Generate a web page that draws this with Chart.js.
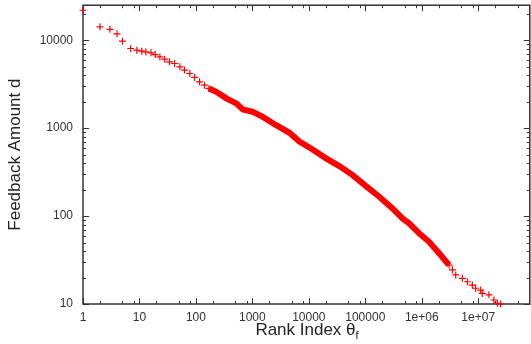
<!DOCTYPE html>
<html>
<head>
<meta charset="utf-8">
<script src="https://cdn.jsdelivr.net/npm/chart.js@4/dist/chart.umd.min.js"></script>
<style>
  body { margin: 0; background: #fff; overflow: hidden; }
  #wrap { position: relative; width: 531px; height: 344px; overflow: hidden; }
  #xtitle {
    position: absolute; left: 83px; width: 448px; top: 320px;
    text-align: center; font: 17px "Liberation Sans", Arial, sans-serif;
    color: #222; line-height: 20px;
  }
  #xtitle sub { font-size: 11px; vertical-align: -4px; }
</style>
</head>
<body>
<div id="wrap">
  <canvas id="rankChart" width="535" height="344"></canvas>
  <div id="xtitle">Rank Index θ<sub>f</sub></div>
</div>
<script>
// head of the curve: separate + markers
const headRank   = [1, 2, 3, 4, 5, 7, 9, 11, 13, 16, 19, 23, 28, 34, 42, 52, 63, 78, 95, 116, 142, 170];
const headAmount = [21900, 14200, 13300, 11800, 9750, 8050, 7700, 7500, 7360, 7180, 6870, 6450, 6080, 5670, 5430, 4980, 4570, 4180, 3770, 3360, 3080, 2830];

// body: markers merge into a solid band
const bodyRank   = [170, 230, 346, 520, 680, 1020, 1530, 2640, 4540, 6820, 11700, 20200, 34700, 59700, 103000, 177000, 303000, 456000, 598000, 899000, 1350000, 2030000, 3050000];
const bodyAmount = [2830, 2590, 2180, 1910, 1630, 1530, 1340, 1080, 885, 705, 572, 453, 370, 292, 219, 166, 122, 94, 82.6, 63.5, 51, 37.7, 27.7];

// tail: markers thin out again
const tailRank   = [2030000, 2500000, 3050000, 3500000, 4000000, 5240000, 6420000, 7870000, 9000000, 11100000, 11800000, 15500000, 19000000, 21800000, 25000000];
const tailAmount = [37.7, 32, 27.7, 24.5, 21.4, 19.6, 17.9, 16.4, 15.1, 14.4, 13.2, 12.7, 11.1, 10.2, 10];

const xTicks = [1, 10, 100, 1000, 10000, 100000, 1000000, 10000000];
const xTickLabels = ['1', '10', '100', '1000', '10000', '100000', '1e+06', '1e+07'];
const yTicks = [10, 100, 1000, 10000];
const yTickLabels = ['10', '100', '1000', '10000'];
const xMinor = [2, 5, 8];
const yMinor = [2, 3, 4, 5, 6, 7, 8, 9];

const red = '#ff0000';
const axisColor = '#333333';
const font = '"Liberation Sans", Arial, sans-serif';

const pts = (xs, ys) => xs.map((x, i) => ({ x: x, y: ys[i] }));

// box border and inward ticks on all four sides
const frameTicks = {
    id: 'frameTicks',
    beforeDatasetsDraw(chart) {
        const { ctx, chartArea: a, scales: { x, y } } = chart;
        ctx.save();
        ctx.strokeStyle = axisColor;
        ctx.lineWidth = 1.5;
        ctx.strokeRect(a.left, a.top, a.right - a.left, a.bottom - a.top);
        ctx.lineWidth = 1;
        ctx.beginPath();
        const xTick = (v, len) => {
            if (v < x.min || v > x.max) return;
            const p = Math.round(x.getPixelForValue(v)) + 0.5;
            ctx.moveTo(p, a.bottom); ctx.lineTo(p, a.bottom - len);
            ctx.moveTo(p, a.top); ctx.lineTo(p, a.top + len);
        };
        const yTick = (v, len) => {
            if (v < y.min || v > y.max) return;
            const p = Math.round(y.getPixelForValue(v)) + 0.5;
            ctx.moveTo(a.left, p); ctx.lineTo(a.left + len, p);
            ctx.moveTo(a.right, p); ctx.lineTo(a.right - len, p);
        };
        xTicks.concat([100000000]).forEach(d => {
            xTick(d, 6);
            xMinor.forEach(m => xTick(d * m, 3));
        });
        yTicks.forEach(d => {
            yTick(d, 6);
            yMinor.forEach(m => yTick(d * m, 3));
        });
        ctx.stroke();
        ctx.restore();
    }
};

const crossStyle = {
    showLine: false,
    pointStyle: 'cross',
    pointRadius: 3.5,
    pointBorderWidth: 1.2,
    borderColor: red,
    backgroundColor: red,
    clip: false
};

new Chart(document.getElementById('rankChart').getContext('2d'), {
    type: 'scatter',
    data: {
        datasets: [
            Object.assign({ label: 'head', data: pts(headRank, headAmount) }, crossStyle),
            {
                label: 'body',
                data: pts(bodyRank, bodyAmount),
                showLine: true,
                borderColor: red,
                borderWidth: 6,
                pointRadius: 0,
                tension: 0,
                clip: false
            },
            Object.assign({ label: 'tail', data: pts(tailRank, tailAmount) }, crossStyle)
        ]
    },
    options: {
        responsive: false,
        animation: false,
        layout: { padding: { top: 5, right: 0, left: 0, bottom: 0 } },
        plugins: { legend: { display: false }, tooltip: { enabled: false } },
        scales: {
            x: {
                type: 'logarithmic',
                min: 1,
                max: 82000000,
                grid: { display: false, drawTicks: false },
                border: { display: false },
                afterBuildTicks: s => { s.ticks = xTicks.map(v => ({ value: v })); },
                afterFit: s => { s.height = 40; s.paddingLeft = 0; s.paddingRight = 0; },
                ticks: {
                    autoSkip: false,
                    maxRotation: 0,
                    padding: 6,
                    color: axisColor,
                    font: { family: font, size: 12 },
                    callback: (v, i) => xTickLabels[i]
                }
            },
            y: {
                type: 'logarithmic',
                min: 10,
                max: 25000,
                grid: { display: false, drawTicks: false },
                border: { display: false },
                afterBuildTicks: s => { s.ticks = yTicks.map(v => ({ value: v })); },
                afterFit: s => { s.width = 83; s.paddingTop = 0; s.paddingBottom = 0; },
                ticks: {
                    autoSkip: false,
                    padding: 10,
                    color: axisColor,
                    font: { family: font, size: 12 },
                    callback: (v, i) => yTickLabels[i]
                },
                title: {
                    display: true,
                    text: 'Feedback Amount d',
                    color: '#222',
                    padding: { top: 5, bottom: 0 },
                    font: { family: font, size: 17 }
                }
            }
        }
    },
    plugins: [frameTicks]
});
</script>
</body>
</html>
